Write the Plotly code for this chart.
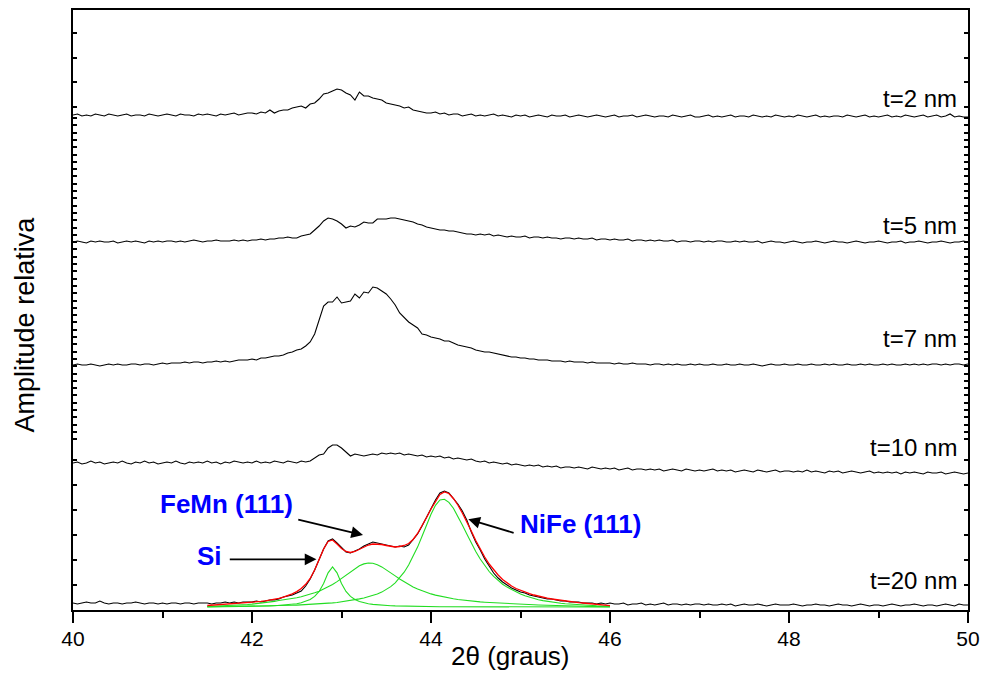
import numpy as np
import plotly.graph_objects as go

# ---------------------------------------------------------------
# XRD scans (2theta, step 0.05 deg) for FeMn/NiFe stacks of
# different thickness t.  Intensities are relative, each scan is
# stacked on its own vertical offset.
# ---------------------------------------------------------------
STEP = 0.05
two_theta = np.round(40 + STEP * np.arange(201), 2)
two_theta_fit = np.round(41.5 + STEP * np.arange(91), 2)

t2_nm = (
    [1, 2, 0, 1, 0, 2, 1, 0, 2, 1, 0, 1, 2, 0, 1, 1, 0, 2, 1, 0]
    + [1, 2, 1, 0, 2, 1, 1, 0, 2, 1, 2, 1, 0, 2, 1, 2, 3, 1, 2, 3]
    + [3, 2, 4, 3, 6, 3, 5, 6, 6, 8, 9, 10, 8, 12, 13, 17, 22, 23, 25, 27]
    + [26, 23, 21, 16, 24, 20, 20, 18, 17, 16, 13, 12, 11, 10, 8, 9, 6, 5, 4, 3]
    + [3, 4, 2, 3, 1, 2, 2, 0, 1, 2, 0, 1, 0, 1, 2, 0, 1, 0, -1, 1]
    + [0, 1, -1, 0, 1, 0, -1, 1, 0, 0, 1, -1, 0, 1, 0, -1, 0, 1, 0, -1]
    + [0, 1, -1, 0, 0, 1, -1, 0, 1, 0, -1, 0, 0, -1, 1, 0, -1, 0, 1, -1]
    + [-1, 0, 1, -1, 0, -1, 0, 1, -1, 0, 0, -1, 1, 0, -1, 0, -1, 1, 0, -1]
    + [0, -1, 1, 0, -1, 0, 1, -1, 0, -1, 0, 0, -1, 1, 0, -1, 0, 1, -1, 0]
    + [-1, 0, 1, -1, 0, -1, 1, 0, -1, 0, 1, -1, 0, 1, -1, 0, 2, -1, 0, -1]
    + [-1]
)

t5_nm = (
    [0, 1, 0, -1, 1, 0, 1, 0, 0, 1, -1, 0, 1, 0, 1, 0, -1, 1, 0, 1]
    + [0, 1, 1, 0, 1, 0, 1, 2, 1, 0, 1, 1, 2, 1, 1, 1, 2, 1, 2, 1]
    + [2, 2, 3, 2, 3, 3, 4, 4, 5, 4, 4, 6, 7, 8, 12, 16, 21, 24, 23, 21]
    + [18, 14, 16, 15, 17, 20, 19, 19, 23, 23, 23, 24, 24, 23, 22, 21, 20, 18, 17, 15]
    + [14, 13, 12, 12, 11, 11, 10, 9, 8, 8, 7, 8, 7, 8, 6, 7, 6, 5, 6, 5]
    + [5, 6, 4, 5, 5, 4, 5, 4, 4, 3, 4, 4, 3, 4, 3, 3, 4, 2, 3, 3]
    + [2, 3, 2, 2, 3, 1, 2, 2, 1, 2, 1, 2, 1, 1, 2, 0, 1, 1, 0, 1]
    + [1, 0, 1, 0, 1, 1, 0, 0, 1, 0, 1, 0, 0, 1, -1, 0, 1, 0, 0, -1]
    + [0, 1, 0, -1, 0, 0, 1, 0, -1, 0, 1, 0, 0, -1, 0, 1, 0, -1, 0, 0]
    + [1, 0, -1, 0, 0, 1, -1, 0, 0, 1, 0, -1, 0, 0, 1, 0, -1, 0, 0, 1]
    + [0]
)

t7_nm = (
    [0, 1, 0, 0, 1, 0, -1, 0, 1, 0, 1, 0, 0, 1, 1, 0, 1, 1, 0, 1]
    + [2, 1, 2, 2, 2, 3, 2, 3, 3, 2, 3, 3, 4, 3, 4, 3, 4, 5, 5, 5]
    + [6, 5, 7, 7, 8, 9, 9, 10, 12, 13, 15, 16, 19, 23, 31, 45, 59, 63, 63, 68]
    + [62, 63, 64, 71, 67, 73, 72, 78, 77, 74, 71, 66, 60, 52, 47, 43, 40, 37, 31, 30]
    + [28, 27, 26, 24, 24, 22, 20, 19, 18, 17, 15, 14, 13, 13, 12, 11, 10, 9, 8, 8]
    + [7, 7, 6, 6, 5, 5, 5, 4, 4, 4, 3, 4, 3, 3, 3, 2, 3, 2, 2, 2]
    + [2, 1, 2, 1, 1, 2, 1, 1, 1, 0, 1, 1, 0, 1, 0, 1, 0, 0, 1, 0]
    + [1, 0, 0, 1, 0, 0, 1, 0, 0, 1, 0, 0, 1, 0, -1, 0, 1, 0, 0, 1]
    + [0, 0, 1, 0, 0, 1, 0, 0, 1, 0, 1, 0, 0, 1, 0, 0, 1, 0, 1, 0]
    + [0, 1, 0, 1, 0, 0, 1, 0, 1, 0, 1, 0, 1, 1, 0, 1, 0, 1, 1, 0]
    + [1]
)

t10_nm = (
    [12, 13, 11, 12, 14, 12, 13, 11, 12, 13, 12, 14, 12, 11, 13, 12, 14, 12, 13, 11]
    + [12, 13, 12, 14, 12, 11, 13, 12, 13, 12, 14, 12, 13, 11, 13, 12, 14, 13, 12, 13]
    + [12, 14, 12, 13, 12, 14, 13, 12, 14, 13, 12, 14, 13, 14, 17, 20, 21, 27, 30, 30]
    + [27, 23, 19, 21, 20, 19, 20, 21, 20, 22, 21, 22, 21, 22, 20, 21, 20, 19, 20, 18]
    + [19, 18, 19, 17, 18, 16, 17, 16, 15, 16, 14, 13, 14, 12, 13, 12, 11, 12, 10, 11]
    + [10, 9, 10, 9, 10, 8, 9, 8, 9, 7, 8, 8, 7, 8, 7, 6, 8, 7, 6, 7]
    + [6, 7, 5, 6, 7, 5, 6, 6, 5, 6, 5, 6, 4, 5, 6, 5, 4, 6, 5, 4]
    + [5, 4, 5, 6, 4, 5, 4, 5, 3, 4, 5, 4, 3, 5, 4, 3, 4, 5, 3, 4]
    + [4, 3, 4, 3, 5, 3, 4, 3, 2, 4, 3, 4, 2, 3, 4, 3, 2, 3, 4, 2]
    + [3, 2, 3, 2, 3, 1, 3, 2, 3, 2, 1, 3, 2, 2, 3, 1, 2, 3, 2, 1]
    + [2]
)

t20_nm = (
    [4, 3, 4, 5, 4, 4, 6, 4, 3, 4, 4, 3, 4, 4, 5, 4, 3, 4, 4, 3]
    + [4, 3, 4, 4, 3, 4, 4, 3, 4, 4, 4, 3, 4, 4, 5, 4, 5, 4, 5, 5]
    + [5, 6, 5, 6, 7, 7, 8, 10, 11, 12, 14, 16, 21, 28, 37, 48, 58, 66, 68, 64]
    + [59, 55, 54, 56, 58, 61, 63, 65, 64, 63, 62, 61, 60, 61, 60, 62, 67, 73, 81, 90]
    + [99, 107, 114, 116, 114, 109, 103, 96, 87, 75, 65, 57, 48, 41, 34, 29, 25, 22, 19, 17]
    + [15, 14, 12, 11, 10, 9, 8, 8, 7, 6, 6, 5, 5, 5, 4, 4, 4, 3, 4, 3]
    + [4, 3, 3, 4, 2, 3, 3, 4, 2, 3, 2, 3, 4, 2, 3, 3, 2, 3, 2, 3]
    + [3, 2, 3, 2, 2, 3, 2, 3, 1, 2, 3, 2, 2, 3, 2, 1, 2, 3, 2, 2]
    + [2, 3, 2, 1, 2, 2, 3, 2, 2, 1, 2, 3, 2, 2, 1, 2, 3, 2, 1, 2]
    + [2, 1, 2, 3, 2, 1, 2, 2, 3, 2, 1, 2, 2, 1, 2, 3, 2, 1, 3, 2]
    + [2]
)

# Peak fit of the t=20 nm scan (41.5 - 46 deg): total and components
fit_total = (
    [1.5, 1.8, 2.0, 2.2, 2.5, 2.8, 3.1, 3.4, 3.8, 4.2]
    + [4.6, 5.1, 5.6, 6.2, 6.9, 7.7, 8.7, 9.9, 11.3, 13.1]
    + [15.4, 18.5, 22.7, 28.5, 37, 48, 58, 65.5, 67, 63]
    + [58.5, 55.5, 54.5, 55.5, 57.5, 60, 62, 63, 63, 62.5]
    + [61.5, 60.5, 60, 60.5, 61.5, 63.5, 67.5, 73.5, 81, 89.5]
    + [98, 106, 112.5, 115, 113.5, 108.5, 102, 94, 85.5, 76]
    + [66.5, 58, 50, 43, 37, 32, 27.5, 24, 21, 18.5]
    + [16.5, 14.8, 13.3, 12, 10.8, 9.7, 8.8, 8, 7.3, 6.6]
    + [6.0, 5.4, 4.9, 4.4, 4.0, 3.6, 3.2, 2.8, 2.4, 2.0]
    + [1.4]
)

peak_si = (
    [0.09, 0.11, 0.13, 0.16, 0.19, 0.22, 0.26, 0.32, 0.37, 0.44]
    + [0.52, 0.61, 0.73, 0.87, 1.04, 1.26, 1.54, 1.82, 2.18, 2.66]
    + [3.3, 4.2, 5.5, 7.5, 10.6, 15.6, 23.6, 34.1, 40.0, 34.1]
    + [23.6, 15.6, 10.6, 7.5, 5.5, 4.2, 3.3, 2.66, 2.18, 1.82]
    + [1.54, 1.3, 1.1, 0.95, 0.82, 0.72, 0.63, 0.56, 0.5, 0.45]
    + [0.4, 0.36, 0.32, 0.29, 0.26, 0.24, 0.22, 0.2, 0.18, 0.17]
    + [0.15, 0.14, 0.13, 0.12, 0.11, 0.1, 0.09, 0.09, 0.08, 0.08]
    + [0.07, 0.07, 0.07, 0.06, 0.06, 0.06, 0.05, 0.05, 0.05, 0.05]
    + [0.04, 0.04, 0.04, 0.04, 0.03, 0.03, 0.03, 0.03, 0.03, 0.03]
    + [0.02]
)

peak_femn = (
    [0.56, 0.70, 0.86, 1.03, 1.22, 1.43, 1.67, 1.9, 2.2, 2.55]
    + [2.9, 3.3, 3.8, 4.3, 4.9, 5.6, 6.5, 7.1, 7.7, 8.5]
    + [9.3, 10.3, 11.4, 12.7, 14.2, 15.8, 17.8, 20.0, 22.5, 25.4]
    + [28.5, 31.8, 35.2, 38.4, 41.2, 43.1, 44.0, 43.7, 42.3, 40.1]
    + [37.3, 34.3, 31.1, 28.0, 25.1, 22.5, 20.1, 18.0, 16.2, 14.6]
    + [13.1, 11.9, 10.8, 9.8, 9.0, 8.2, 7.5, 6.9, 6.4, 5.9]
    + [5.5, 5.1, 4.8, 4.5, 4.2, 3.9, 3.7, 3.5, 3.3, 3.1]
    + [2.9, 2.7, 2.4, 2.2, 2.0, 1.8, 1.7, 1.5, 1.4, 1.24]
    + [1.12, 1.0, 0.9, 0.81, 0.72, 0.64, 0.56, 0.49, 0.42, 0.36]
    + [0.3]
)

peak_nife = (
    [0.22, 0.26, 0.30, 0.34, 0.38, 0.43, 0.48, 0.53, 0.59, 0.66]
    + [0.72, 0.80, 0.88, 0.97, 1.07, 1.2, 1.3, 1.4, 1.55, 1.7]
    + [1.9, 2.1, 2.3, 2.5, 2.7, 3.0, 3.3, 3.7, 4.1, 4.5]
    + [5.1, 5.6, 6.3, 7.1, 8.1, 9.0, 10.1, 11.4, 12.9, 14.9]
    + [17.3, 20.4, 24.2, 29.0, 34.8, 41.9, 50.3, 59.9, 70.7, 81.9]
    + [92.8, 101.7, 107.1, 107.7, 104.7, 98.8, 91.0, 82.0, 72.9, 63.9]
    + [55.5, 48.0, 41.3, 35.5, 30.6, 26.4, 22.8, 19.9, 17.4, 15.2]
    + [13.0, 11.2, 9.7, 8.4, 7.3, 6.4, 5.6, 4.9, 4.3, 3.8]
    + [3.3, 2.9, 2.5, 2.2, 1.9, 1.6, 1.4, 1.2, 1.0, 0.8]
    + [0.6]
)

scan_names = ["t=2 nm", "t=5 nm", "t=7 nm", "t=10 nm", "t=20 nm"]
scans = [t2_nm, t5_nm, t7_nm, t10_nm, t20_nm]
stack_offsets = [494, 368, 245, 135, 3]
label_heights = [512, 385, 272, 163, 30]

for s in scans:
    assert len(s) == len(two_theta), len(s)
for s in (fit_total, peak_si, peak_femn, peak_nife):
    assert len(s) == len(two_theta_fit), len(s)

FONT = "Arial, Liberation Sans, Helvetica, sans-serif"
GREEN = "#22dd22"

fig = go.Figure()

for name, vals, off in zip(scan_names, scans, stack_offsets):
    fig.add_trace(go.Scatter(
        x=two_theta, y=np.array(vals, dtype=float) + off, mode="lines",
        name=name, line=dict(color="black", width=1.1),
    ))

fit_off = stack_offsets[-1]
for comp in (peak_si, peak_femn, peak_nife):
    fig.add_trace(go.Scatter(
        x=two_theta_fit, y=np.array(comp) + fit_off, mode="lines",
        line=dict(color=GREEN, width=1.1), showlegend=False,
    ))
fig.add_trace(go.Scatter(
    x=two_theta_fit, y=np.array(fit_total) + fit_off, mode="lines",
    line=dict(color="#ff0000", width=1.3), showlegend=False,
))

annotations = []
for name, yl in zip(scan_names, label_heights):
    annotations.append(dict(
        x=49.9, y=yl, xref="x", yref="y", text=name, showarrow=False,
        xanchor="right", yanchor="middle",
        font=dict(family=FONT, size=24, color="black"),
    ))

# Peak labels with arrows
peak_labels = [
    ("FeMn (111)", 41.71, 106, 43.24, 75, 42.50, 90.7),
    ("Si", 41.53, 54.5, 42.72, 50.7, 41.735, 50.7),
    ("NiFe (111)", 45.67, 86, 44.417, 90.7, 44.94, 76.7),
]
for text, tx, ty, hx, hy, ax, ay in peak_labels:
    annotations.append(dict(
        x=tx, y=ty, xref="x", yref="y", text=f"<b>{text}</b>", showarrow=False,
        xanchor="center", yanchor="middle",
        font=dict(family=FONT, size=26, color="#0000ff"),
    ))
    annotations.append(dict(
        x=hx, y=hy, xref="x", yref="y", ax=ax, ay=ay, axref="x", ayref="y",
        text="", showarrow=True, arrowhead=2, arrowsize=1.3, arrowwidth=1.8,
        arrowcolor="black",
    ))

# Axis titles
annotations.append(dict(
    x=-0.0536, y=0.476, xref="paper", yref="paper", text="Amplitude relativa",
    textangle=-90, showarrow=False, xanchor="center", yanchor="middle",
    font=dict(family=FONT, size=27, color="black"),
))
annotations.append(dict(
    x=0.489, y=-0.0767, xref="paper", yref="paper", text="2θ (graus)",
    showarrow=False, xanchor="center", yanchor="middle",
    font=dict(family=FONT, size=26, color="black"),
))

y_ticks = [577, 552, 528, 503]
y_ticks += [492 - 7.3 * k for k in range(45)]
y_ticks += [150, 125, 100, 75, 50, 25]

fig.update_layout(
    width=982, height=673,
    margin=dict(l=73, r=14, t=10, b=63),
    plot_bgcolor="white", paper_bgcolor="white",
    showlegend=False,
    annotations=annotations,
    xaxis=dict(
        range=[40, 50], tick0=40, dtick=2, automargin=False,
        ticks="outside", ticklen=11, tickwidth=2, tickcolor="black",
        showline=True, linewidth=2, linecolor="black", mirror=True,
        showgrid=False, zeroline=False,
        ticklabelstandoff=-2,
        tickfont=dict(family=FONT, size=21, color="black"),
        minor=dict(dtick=1, ticks="outside", ticklen=6, tickwidth=2,
                   tickcolor="black", showgrid=False),
    ),
    yaxis=dict(
        range=[0, 600], showticklabels=False, automargin=False,
        tickmode="array", tickvals=y_ticks,
        ticks="inside", ticklen=4, tickwidth=1.5, tickcolor="black",
        showline=True, linewidth=2, linecolor="black", mirror="ticks",
        showgrid=False, zeroline=False,
    ),
)

fig.write_html("out.html")
